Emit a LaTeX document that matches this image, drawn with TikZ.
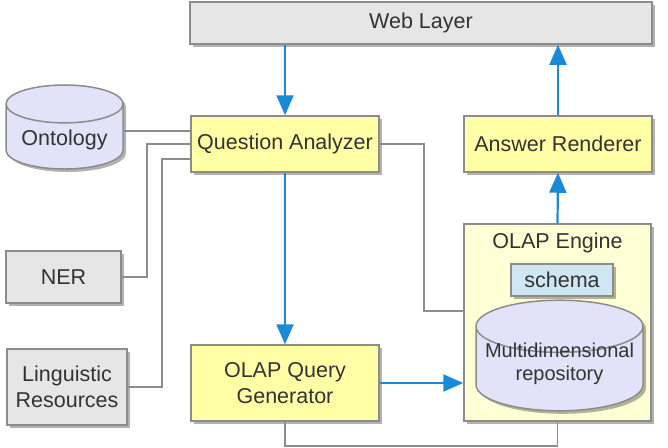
\documentclass[tikz,border=0pt]{standalone}
\usepackage{fontspec}
\setmainfont{Liberation Sans}
\usetikzlibrary{shapes.geometric,shadows,arrows.meta}

\definecolor{boxyellow}{HTML}{FFFFA6}
\definecolor{paleyellow}{HTML}{FFFFD6}
\definecolor{boxgray}{HTML}{E6E6E6}
\definecolor{lavender}{HTML}{E2E2F8}
\definecolor{schemablue}{HTML}{CFE7F2}
\definecolor{arrowblue}{HTML}{1A8AD6}
\definecolor{linegray}{HTML}{8C8C8C}
\definecolor{textgray}{HTML}{333333}

\tikzset{
  base/.style={draw=linegray, line width=1.5pt, text=textgray, align=center, inner sep=0pt,
    font=\fontsize{21.5}{26}\selectfont,
    drop shadow={shadow xshift=3pt, shadow yshift=-3pt, opacity=.3, fill=black}},
  module/.style={base, rectangle, fill=boxyellow},
  resource/.style={base, rectangle, fill=boxgray},
  store/.style={base, cylinder, shape border rotate=90, fill=lavender},
  link/.style={draw=linegray, line width=1.5pt},
  flow/.style={draw=arrowblue, line width=2.2pt, -{Triangle[length=20pt,width=17pt]}}
}

\begin{document}
\begin{tikzpicture}[x=1pt, y=-1pt]
   \useasboundingbox (0,0) rectangle (668,447);

   \node[resource, minimum width=462pt, minimum height=42pt] (web) at (421,23) {Web Layer};
   \node[module, minimum width=188pt, minimum height=56pt] (qa) at (285,144) {Question Analyzer};
   \node[module, minimum width=188pt, minimum height=56pt] (ar) at (558,144) {Answer Renderer};
   \node[module, minimum width=188pt, minimum height=76pt] (oqg) at (285,383) {OLAP Query\\Generator};

   \node[base, fill=paleyellow, minimum width=187pt, minimum height=197pt] (engine) at (557.5,322.5) {};
   \node[text=textgray, font=\fontsize{21.5}{26}\selectfont] (enginelabel) at (557.5,243) {OLAP Engine};
   \node[base, fill=schemablue, minimum width=102pt, minimum height=32pt, drop shadow={opacity=0}] (schema) at (562,280) {schema};
   \node[store, aspect=0.35, minimum width=167pt, minimum height=95pt, anchor=shape center, text height=27.5pt,
     font=\fontsize{20}{23}\selectfont, drop shadow={opacity=0}] (repo) at (559.5,355.5) {Multidimensional\\repository};

   \node[store, aspect=0.44, minimum width=117pt, minimum height=80pt, anchor=shape center, text height=22pt] (onto) at (64.5,127) {Ontology};
   \node[resource, minimum width=115pt, minimum height=52pt] (ner) at (63.5,277) {NER};
   \node[resource, minimum width=120pt, minimum height=76pt] (ling) at (67,387) {Linguistic\\Resources};

   % resources feeding the analyzer
   \draw[link] ([yshift=6pt]onto.east) -- ([yshift=6pt]onto.east -| qa.west);
   \draw[link] (ner.east) -- ++(25,0) |- (qa.west);
   \draw[link] (ling.east) -- ++(34,0) |- ([yshift=-15pt]qa.west);
   \draw[link] (qa.east) -- ++(44,0) |- ([yshift=11.5pt]engine.west);
   \draw[link] (oqg.south) -- ++(0,24) -| (engine.south);

   \draw[flow] (web.south -| qa.north) -- (qa.north);
   \draw[flow] (qa) -- (oqg);
   \draw[flow] (oqg.east) -- (oqg.east -| engine.west);
   \draw[flow] (engine.north) -- (ar.south);
   \draw[flow] (ar.north) -- (ar.north |- web.south);

 \end{tikzpicture}
\end{document}
